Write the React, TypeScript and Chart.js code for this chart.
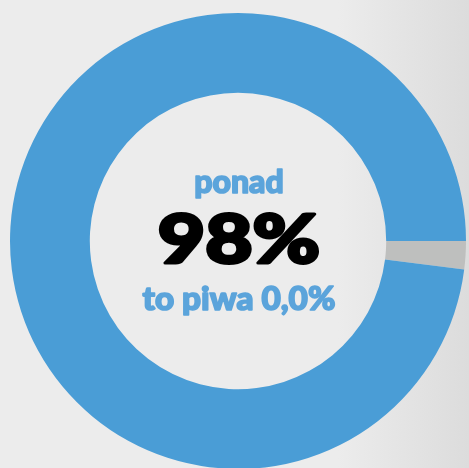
import React, { useEffect, useRef } from "react";
import { Chart, registerables } from "chart.js";

Chart.register(...registerables);

const categories = ["to piwa 0,0%", "pozostałe"];
const values = [98, 2];
const colors = ["#4a9dd6", "#bebfbe"];
const titleTop = "ponad";
const titleMain = "98%";
const titleBottom = "to piwa 0,0%";

const FONT = "'Lato Black', 'Lato Heavy', Lato, sans-serif";

function heavyText(ctx: any, text: string, x: number, y: number, w: number) {
  ctx.lineJoin = "round";
  ctx.lineWidth = w;
  ctx.strokeStyle = ctx.fillStyle;
  ctx.strokeText(text, x, y);
  ctx.fillText(text, x, y);
}

const centerText = {
  id: "centerText",
  afterDraw(chart: any) {
    const ctx = chart.ctx;
    const meta = chart.getDatasetMeta(0);
    const arc = meta.data[0];
    const cx = arc.x;
    const cy = arc.y;
    ctx.save();
    ctx.textAlign = "center";
    ctx.textBaseline = "alphabetic";
    ctx.fillStyle = "#5ba4db";
    ctx.font = "900 32px " + FONT;
    heavyText(ctx, titleTop, cx + 1, cy - 48, 1.6);
    ctx.fillStyle = "#000000";
    ctx.font = "900 67px " + FONT;
    ctx.save();
    ctx.translate(cx + 1, cy + 22);
    ctx.scale(1.22, 1);
    heavyText(ctx, titleMain, 0, 0, 3.2);
    ctx.restore();
    ctx.fillStyle = "#5ba4db";
    ctx.font = "900 32px " + FONT;
    ctx.save();
    ctx.translate(cx + 1, cy + 69);
    ctx.scale(1.04, 1);
    heavyText(ctx, titleBottom, 0, 0, 1.6);
    ctx.restore();
    ctx.restore();
  },
};

export default function App() {
  const ref = useRef<HTMLCanvasElement>(null);
  useEffect(() => {
    document.body.style.margin = "0";
    const chart = new Chart(ref.current!, {
      type: "doughnut",
      data: {
        labels: categories,
        datasets: [
          {
            data: [values[1], values[0]],
            backgroundColor: [colors[1], colors[0]],
            borderWidth: 0,
            hoverOffset: 0,
          },
        ],
      },
      options: {
        responsive: false,
        animation: false,
        rotation: 90,
        cutout: "65%",
        layout: { padding: { left: 10, top: 13, right: 14, bottom: 11 } },
        plugins: { legend: { display: false }, tooltip: { enabled: false } },
      },
      plugins: [centerText],
    });
    return () => chart.destroy();
  }, []);
  return (
    <div
      style={{
        position: "fixed",
        left: 0,
        top: 0,
        width: 469,
        height: 468,
        overflow: "hidden",
        background: "linear-gradient(to right, #ececec 0%, #ececec 72%, #dcdcdc 100%)",
      }}
    >
      <canvas ref={ref} width={480} height={480} style={{ display: "block" }} />
    </div>
  );
}
